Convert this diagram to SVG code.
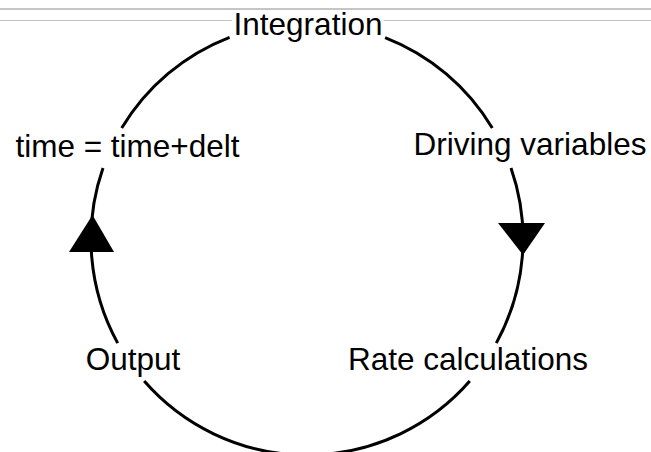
<svg xmlns="http://www.w3.org/2000/svg" width="651" height="452" viewBox="0 0 651 452">
<style>
.lbl{font-family:"Liberation Sans",Arial,Helvetica,sans-serif;font-size:31.5px;fill:#000;text-anchor:middle}
.arc{fill:none;stroke:#000;stroke-width:3;stroke-linecap:butt}
.head{fill:#000;stroke:none}
</style>
<rect width="651" height="452" fill="#fff"/>
<g id="scan-border">
<line x1="0" y1="9" x2="651" y2="9" stroke="#8a8a8a" stroke-width="1"/>
<line x1="0" y1="20.5" x2="651" y2="20.5" stroke="#c4c4c4" stroke-width="1"/>
</g>
<g id="connectors">
<path class="arc" d="M385.1,37.6 A216,216 0 0 1 492.3,128.1"/>
<path class="arc" d="M511,168 A216,216 0 0 1 496.3,343.1"/>
<path class="arc" d="M469.8,381 A216,216 0 0 1 144.2,381"/>
<path class="arc" d="M117.7,343.1 A216,216 0 0 1 103,168"/>
<path class="arc" d="M121.7,128.1 A216,216 0 0 1 229.6,37.3"/>
<polygon class="head" points="498,223 545,223 523,255"/>
<polygon class="head" points="69,252 114,252 92.5,215"/>
</g>
<g id="node-integration"><rect x="232" y="10" width="152" height="30" fill="#fff"/><text class="lbl" x="308" y="35">Integration</text></g>
<g id="node-driving"><text class="lbl" x="530" y="155">Driving variables</text></g>
<g id="node-rate"><text class="lbl" x="468" y="370">Rate calculations</text></g>
<g id="node-output"><text class="lbl" x="133" y="370">Output</text></g>
<g id="node-time"><text class="lbl" x="127.5" y="157">time = time+delt</text></g>
</svg>
